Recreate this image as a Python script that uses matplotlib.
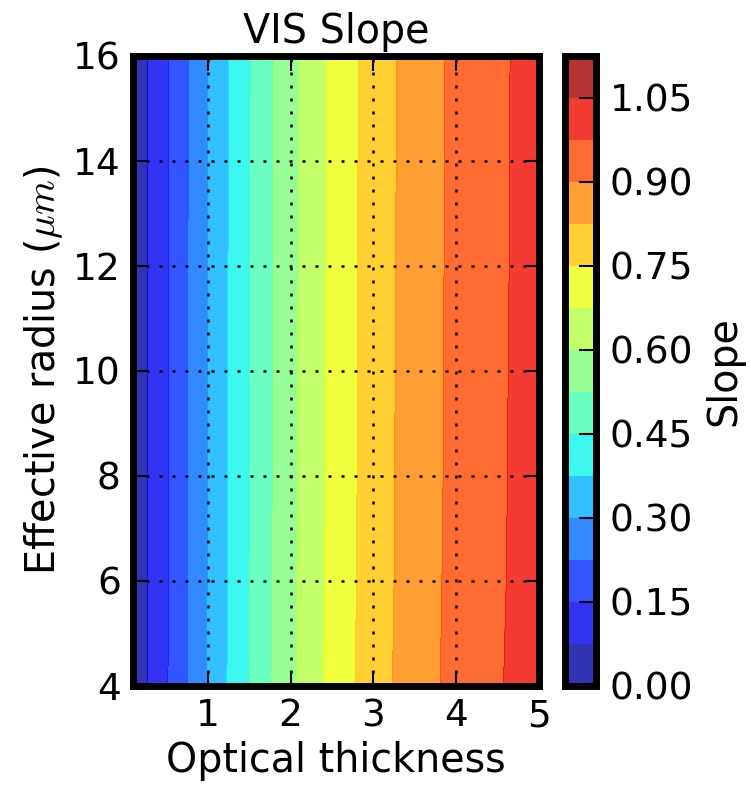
import matplotlib
matplotlib.use("Agg")
import matplotlib.pyplot as plt
import numpy as np

plt.rcParams["mathtext.fontset"] = "cm"

# -- Data --------------------------------------------------------------------
tau = [0.1, 0.25, 0.5, 0.75, 1.0, 1.25, 1.5, 1.75, 2.0, 2.5, 3.0, 3.5, 4.0, 4.5, 5.0]
reff = [4, 6, 8, 10, 12, 14, 16]

slope_r4 = [0.025, 0.069, 0.144, 0.225, 0.304, 0.381, 0.454, 0.522, 0.585, 0.698, 0.791, 0.865, 0.922, 0.969, 1.011]
slope_r6 = [0.025, 0.069, 0.143, 0.223, 0.303, 0.379, 0.451, 0.520, 0.583, 0.695, 0.788, 0.862, 0.920, 0.966, 1.009]
slope_r8 = [0.025, 0.069, 0.142, 0.223, 0.303, 0.378, 0.450, 0.518, 0.581, 0.693, 0.787, 0.861, 0.918, 0.965, 1.007]
slope_r10 = [0.025, 0.069, 0.142, 0.222, 0.302, 0.377, 0.449, 0.518, 0.581, 0.692, 0.786, 0.860, 0.918, 0.964, 1.007]
slope_r12 = [0.025, 0.069, 0.141, 0.222, 0.302, 0.377, 0.448, 0.517, 0.580, 0.691, 0.785, 0.859, 0.917, 0.963, 1.006]
slope_r14 = [0.025, 0.069, 0.141, 0.221, 0.302, 0.376, 0.448, 0.516, 0.579, 0.691, 0.785, 0.858, 0.916, 0.963, 1.005]
slope_r16 = [0.025, 0.069, 0.141, 0.221, 0.302, 0.376, 0.447, 0.516, 0.579, 0.690, 0.784, 0.858, 0.916, 0.962, 1.005]

levels = np.arange(0.0, 1.126, 0.075)
cbar_ticks = [0.00, 0.15, 0.30, 0.45, 0.60, 0.75, 0.90, 1.05]
x_ticks = [1, 2, 3, 4, 5]
y_ticks = [4, 6, 8, 10, 12, 14, 16]

FS_TICK = 27
FS_LAB = 28.5

fig = plt.figure(figsize=(7.51, 7.86), dpi=100)
fig.patch.set_facecolor("white")
ax = fig.add_axes([0.1775, 0.1276, 0.5402, 0.8015])
cax = fig.add_axes([0.7523, 0.1276, 0.0413, 0.8015])

Z = np.array([slope_r4, slope_r6, slope_r8, slope_r10, slope_r12, slope_r14, slope_r16])
cs = ax.contourf(tau, reff, Z, levels=levels, cmap="jet", alpha=0.8)

ax.set_xlim(0.1, 5)
ax.set_ylim(4, 16)
ax.set_xticks(x_ticks)
ax.set_yticks(y_ticks)
ax.grid(True, color="black", linestyle=(0, (1.2, 4.0)), linewidth=1.8)
ax.set_axisbelow(False)
ax.tick_params(direction="in", length=11, width=1.5, labelsize=FS_TICK, pad=9,
               top=True, right=True)
for sp in ax.spines.values():
    sp.set_linewidth(5)
    sp.set_zorder(5)

ax.set_xlabel("Optical thickness", fontsize=FS_LAB, labelpad=5)
ax.set_ylabel(r"Effective radius ($\mu m$)", fontsize=FS_LAB, labelpad=6)
ax.set_title("VIS Slope", fontsize=FS_LAB, pad=9)

cb = fig.colorbar(cs, cax=cax, ticks=cbar_ticks)
cb.outline.set_linewidth(5)
cb.ax.tick_params(direction="in", length=12, width=1.5, labelsize=FS_TICK, pad=10)
cb.ax.set_yticklabels([f"{t:.2f}" for t in cbar_ticks])
cb.set_label("Slope", fontsize=FS_LAB, labelpad=8)

fig.savefig("out.png", dpi=100, facecolor="white")
plt.close(fig)
